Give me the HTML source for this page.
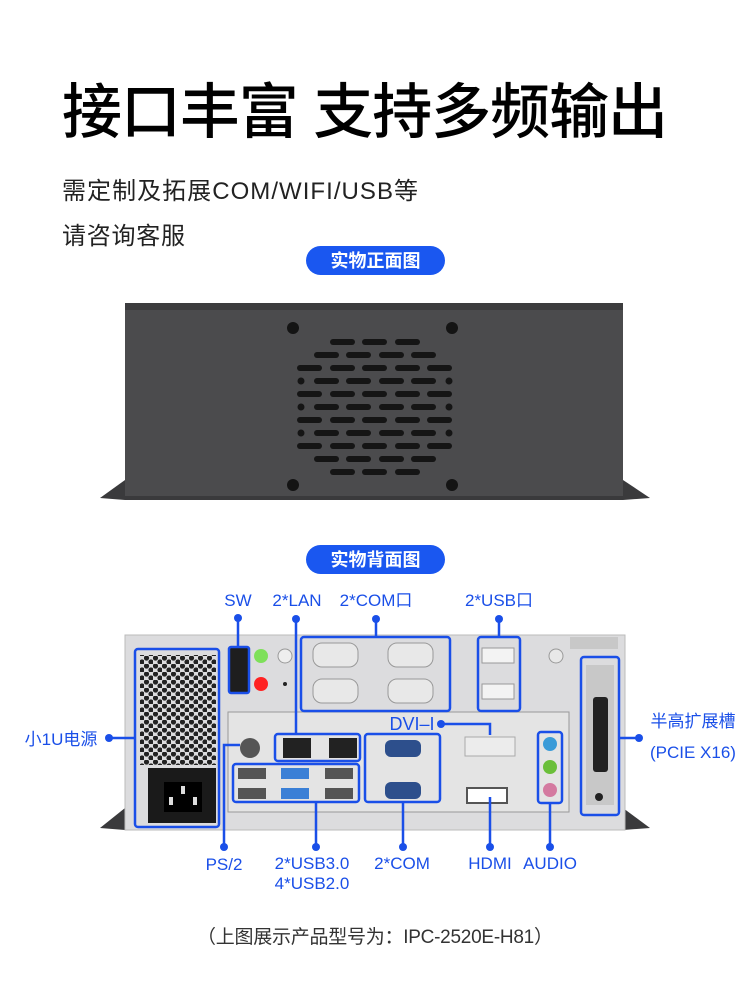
<!DOCTYPE html>
<html><head><meta charset="utf-8"><style>
body{margin:0;width:750px;height:985px;background:#fff;overflow:hidden;font-family:"Liberation Sans","Noto Sans CJK SC",sans-serif}
svg{position:absolute;left:0;top:0}
</style></head><body>
<svg width="750" height="985" viewBox="0 0 750 985" xmlns="http://www.w3.org/2000/svg" font-family="Liberation Sans, Noto Sans CJK SC, sans-serif">
<defs>
<pattern id="hex" x="0" y="0" width="9" height="8" patternUnits="userSpaceOnUse">
<circle cx="2.5" cy="2" r="2.6" fill="#222"/><circle cx="7" cy="6" r="2.6" fill="#222"/>
</pattern>
</defs>
<text x="62" y="133" font-size="60" font-weight="500" fill="#000" textLength="606">接口丰富 支持多频输出</text>
<text x="62" y="199" font-size="24" fill="#222" textLength="356">需定制及拓展COM/WIFI/USB等</text>
<text x="62" y="244" font-size="24" fill="#222" textLength="123">请咨询客服</text>
<rect x="306" y="246" width="139" height="29" rx="14.5" fill="#1a57f0"/>
<text x="375.5" y="267" font-size="18" font-weight="bold" fill="#fff" text-anchor="middle">实物正面图</text>
<!-- front chassis -->
<polygon points="100,498 125,480 125,500" fill="#3a3a3c"/>
<polygon points="650,498 623,480 623,500" fill="#3a3a3c"/>
<rect x="125" y="303" width="498" height="197" fill="#4b4b4d"/>
<rect x="125" y="303" width="498" height="7" fill="#3c3c3e"/>
<rect x="125" y="496" width="498" height="4" fill="#3a3a3c"/>
<g fill="#141414">
<circle cx="293" cy="328" r="6"/><circle cx="452" cy="328" r="6"/><circle cx="293" cy="485" r="6"/><circle cx="452" cy="485" r="6"/>
</g>
<g fill="#151515">
<rect x="330" y="339" width="25" height="6" rx="3"/><rect x="362" y="339" width="25" height="6" rx="3"/><rect x="395" y="339" width="25" height="6" rx="3"/>
<rect x="314" y="352" width="25" height="6" rx="3"/><rect x="346" y="352" width="25" height="6" rx="3"/><rect x="379" y="352" width="25" height="6" rx="3"/><rect x="411" y="352" width="25" height="6" rx="3"/>
<rect x="297" y="365" width="25" height="6" rx="3"/><rect x="330" y="365" width="25" height="6" rx="3"/><rect x="362" y="365" width="25" height="6" rx="3"/><rect x="395" y="365" width="25" height="6" rx="3"/><rect x="427" y="365" width="25" height="6" rx="3"/>
<circle cx="301" cy="381" r="3.5"/><rect x="314" y="378" width="25" height="6" rx="3"/><rect x="346" y="378" width="25" height="6" rx="3"/><rect x="379" y="378" width="25" height="6" rx="3"/><rect x="411" y="378" width="25" height="6" rx="3"/><circle cx="449" cy="381" r="3.5"/>
<rect x="297" y="391" width="25" height="6" rx="3"/><rect x="330" y="391" width="25" height="6" rx="3"/><rect x="362" y="391" width="25" height="6" rx="3"/><rect x="395" y="391" width="25" height="6" rx="3"/><rect x="427" y="391" width="25" height="6" rx="3"/>
<circle cx="301" cy="407" r="3.5"/><rect x="314" y="404" width="25" height="6" rx="3"/><rect x="346" y="404" width="25" height="6" rx="3"/><rect x="379" y="404" width="25" height="6" rx="3"/><rect x="411" y="404" width="25" height="6" rx="3"/><circle cx="449" cy="407" r="3.5"/>
<rect x="297" y="417" width="25" height="6" rx="3"/><rect x="330" y="417" width="25" height="6" rx="3"/><rect x="362" y="417" width="25" height="6" rx="3"/><rect x="395" y="417" width="25" height="6" rx="3"/><rect x="427" y="417" width="25" height="6" rx="3"/>
<circle cx="301" cy="433" r="3.5"/><rect x="314" y="430" width="25" height="6" rx="3"/><rect x="346" y="430" width="25" height="6" rx="3"/><rect x="379" y="430" width="25" height="6" rx="3"/><rect x="411" y="430" width="25" height="6" rx="3"/><circle cx="449" cy="433" r="3.5"/>
<rect x="297" y="443" width="25" height="6" rx="3"/><rect x="330" y="443" width="25" height="6" rx="3"/><rect x="362" y="443" width="25" height="6" rx="3"/><rect x="395" y="443" width="25" height="6" rx="3"/><rect x="427" y="443" width="25" height="6" rx="3"/>
<rect x="314" y="456" width="25" height="6" rx="3"/><rect x="346" y="456" width="25" height="6" rx="3"/><rect x="379" y="456" width="25" height="6" rx="3"/><rect x="411" y="456" width="25" height="6" rx="3"/>
<rect x="330" y="469" width="25" height="6" rx="3"/><rect x="362" y="469" width="25" height="6" rx="3"/><rect x="395" y="469" width="25" height="6" rx="3"/>
</g>
<rect x="306" y="545" width="139" height="29" rx="14.5" fill="#1a57f0"/>
<text x="375.5" y="566" font-size="18" font-weight="bold" fill="#fff" text-anchor="middle">实物背面图</text>
<!-- back chassis -->
<polygon points="100,828 125,808 125,830" fill="#3a3a3c"/>
<polygon points="650,828 623,808 623,830" fill="#3a3a3c"/>
<rect x="125" y="635" width="500" height="195" fill="#dcdcde" stroke="#bbb"/>
<rect x="570" y="637" width="48" height="12" fill="#c8c8c8"/>
<rect x="228" y="712" width="341" height="100" fill="#e4e4e4" stroke="#999"/>
<rect x="140" y="655" width="76" height="110" fill="url(#hex)"/>
<rect x="148" y="768" width="68" height="55" fill="#1a1a1a"/>
<rect x="164" y="782" width="38" height="30" fill="#000"/>
<rect x="181" y="786" width="4" height="8" fill="#ddd"/><rect x="169" y="797" width="4" height="8" fill="#ddd"/><rect x="193" y="797" width="4" height="8" fill="#ddd"/>
<rect x="230" y="648" width="18" height="45" fill="#1e1e1e"/>
<circle cx="261" cy="656" r="7" fill="#7ee05a"/><circle cx="261" cy="684" r="7" fill="#f22"/>
<circle cx="285" cy="656" r="7" fill="#eee" stroke="#999"/><circle cx="285" cy="684" r="2" fill="#222"/>
<g fill="#e8e8e8" stroke="#999">
<rect x="313" y="643" width="45" height="24" rx="9"/><rect x="388" y="643" width="45" height="24" rx="9"/>
<rect x="313" y="679" width="45" height="24" rx="9"/><rect x="388" y="679" width="45" height="24" rx="9"/>
<rect x="482" y="648" width="32" height="15" fill="#f3f3f3"/><rect x="482" y="684" width="32" height="15" fill="#f3f3f3"/>
<circle cx="556" cy="656" r="7"/>
</g>
<rect x="283" y="738" width="28" height="20" fill="#222"/><rect x="329" y="738" width="28" height="20" fill="#222"/>
<circle cx="250" cy="748" r="10" fill="#555"/>
<g fill="#555"><rect x="238" y="768" width="28" height="11"/><rect x="238" y="788" width="28" height="11"/><rect x="325" y="768" width="28" height="11"/><rect x="325" y="788" width="28" height="11"/></g>
<rect x="281" y="768" width="28" height="11" fill="#3a7fd6"/><rect x="281" y="788" width="28" height="11" fill="#3a7fd6"/>
<rect x="385" y="740" width="36" height="17" rx="6" fill="#2d4f8c"/><rect x="385" y="782" width="36" height="17" rx="6" fill="#2d4f8c"/>
<rect x="465" y="737" width="50" height="19" fill="#ececec" stroke="#aaa"/>
<rect x="467" y="788" width="40" height="15" fill="#fff" stroke="#555" stroke-width="2"/>
<circle cx="550" cy="744" r="7" fill="#3a9bd8"/><circle cx="550" cy="767" r="7" fill="#6bbf3a"/><circle cx="550" cy="790" r="7" fill="#d47aa0"/>
<rect x="586" y="665" width="28" height="140" fill="#c8c8c8"/><rect x="593" y="697" width="15" height="75" rx="3" fill="#222"/>
<circle cx="599" cy="797" r="4" fill="#222"/>
<!-- callouts -->
<g fill="none" stroke="#1a4fe8" stroke-width="2.5">
<rect x="135" y="649" width="84" height="178" rx="3"/>
<rect x="229" y="647" width="20" height="46" rx="2"/>
<rect x="301" y="637" width="149" height="74" rx="3"/>
<rect x="478" y="637" width="42" height="74" rx="3"/>
<rect x="275" y="734" width="85" height="27" rx="3"/>
<rect x="233" y="764" width="126" height="38" rx="3"/>
<rect x="365" y="734" width="75" height="68" rx="3"/>
<rect x="538" y="732" width="24" height="71" rx="3"/>
<rect x="581" y="657" width="38" height="158" rx="3"/>
<path d="M238 618V647M296 619V734M376 619V637M499 619V637"/>
<path d="M109 738H135M619 738H639"/>
<path d="M441 724H490V735"/>
<path d="M224 847V745H240M316 802V847M403 802V847M490 797V847M550 803V847"/>
</g>
<g fill="#1a4fe8">
<circle cx="238" cy="618" r="4"/><circle cx="296" cy="619" r="4"/><circle cx="376" cy="619" r="4"/><circle cx="499" cy="619" r="4"/>
<circle cx="109" cy="738" r="4"/><circle cx="639" cy="738" r="4"/><circle cx="441" cy="724" r="4"/>
<circle cx="224" cy="847" r="4"/><circle cx="316" cy="847" r="4"/><circle cx="403" cy="847" r="4"/><circle cx="490" cy="847" r="4"/><circle cx="550" cy="847" r="4"/>
</g>
<g fill="#1a4fe8" font-size="17" text-anchor="middle">
<text x="238" y="606">SW</text><text x="297" y="606">2*LAN</text><text x="376" y="606">2*COM口</text><text x="499" y="606">2*USB口</text>
<text x="412" y="730" font-size="18">DVI–I</text>
<text x="61" y="745">小1U电源</text>
<text x="693" y="727">半高扩展槽</text><text x="693" y="758">(PCIE X16)</text>
<text x="224" y="870">PS/2</text><text x="312" y="869">2*USB3.0</text><text x="312" y="889">4*USB2.0</text>
<text x="402" y="869">2*COM</text><text x="490" y="869">HDMI</text><text x="550" y="869">AUDIO</text>
</g>
<text x="197" y="943" font-size="19" fill="#333" textLength="356">（上图展示产品型号为：IPC-2520E-H81）</text>
</svg>
</body></html>
